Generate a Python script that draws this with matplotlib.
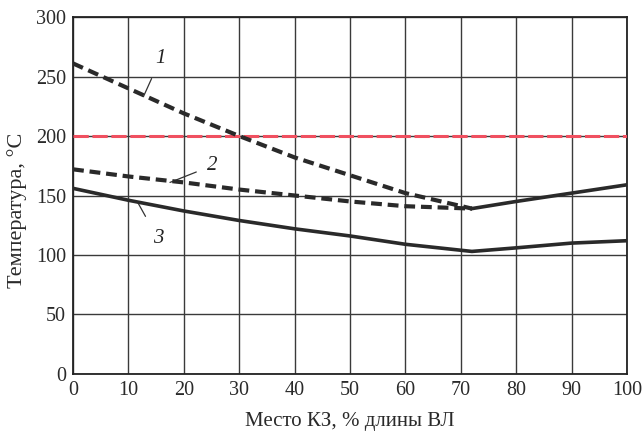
import matplotlib
matplotlib.use('Agg')
import matplotlib.pyplot as plt

# data
x1 = [0, 10, 20, 30, 40, 50, 60, 72]
y1 = [261, 240, 219, 200, 182, 167, 152, 139]
x2 = [0, 10, 20, 30, 40, 50, 60, 72]
y2 = [172, 166, 161, 155, 150, 145, 141, 139]
x12 = [72, 80, 90, 100]
y12 = [139, 145, 152, 159]
x3 = [0, 10, 20, 30, 40, 50, 60, 70, 72, 80, 90, 100]
y3 = [156, 146, 137, 129, 122, 116, 109, 104, 103, 106, 110, 112]
limit = 200

xticks = list(range(0, 101, 10))
yticks = list(range(0, 301, 50))

plt.rcParams['font.family'] = ['Liberation Serif', 'DejaVu Serif']

fig = plt.figure(figsize=(6.44, 4.32), dpi=100)
ax = fig.add_axes([0.1134, 0.1343, 0.8602, 0.8263])

ax.set_xlim(0, 100)
ax.set_ylim(0, 300)
ax.set_xticks(xticks)
ax.set_yticks(yticks)
ax.grid(True, color='#3a3a3a', linewidth=1.0)
ax.set_axisbelow(True)
ax.tick_params(length=0, pad=5, labelsize=14.5, colors='#2a2a2a')
for s in ax.spines.values():
    s.set_color('#222222')
    s.set_linewidth(1.3)

ax.axhline(limit, color='#f05060', linewidth=2.2, linestyle=(0, (5, 1.2)), zorder=3)

ax.plot(x1, y1, color='#2a2a2a', linewidth=3, linestyle=(0, (2.6, 1.4)), zorder=4)
ax.plot(x2, y2, color='#2a2a2a', linewidth=3, linestyle=(0, (2.6, 1.4)), zorder=4)
ax.plot(x12, y12, color='#2a2a2a', linewidth=2.6, zorder=4)
ax.plot(x3, y3, color='#2a2a2a', linewidth=2.6, zorder=4)

# curve labels with leader lines
ax.annotate('1', xy=(12.7, 233), xytext=(15.8, 265), fontsize=15, style='italic',
            ha='center', va='center', color='#222222',
            arrowprops=dict(arrowstyle='-', color='#333333', lw=0.9, shrinkA=6, shrinkB=0))
ax.annotate('2', xy=(17.5, 161), xytext=(25.1, 175), fontsize=15, style='italic',
            ha='center', va='center', color='#222222',
            arrowprops=dict(arrowstyle='-', color='#333333', lw=0.9, shrinkA=6, shrinkB=0))
ax.annotate('3', xy=(11.7, 144), xytext=(15.3, 114), fontsize=15, style='italic',
            ha='center', va='center', color='#222222',
            arrowprops=dict(arrowstyle='-', color='#333333', lw=0.9, shrinkA=8, shrinkB=0))

ax.set_xlabel('Место КЗ, % длины ВЛ', fontsize=15, color='#2a2a2a', labelpad=9)
ax.set_ylabel('Температура, °С', fontsize=16, color='#2a2a2a')
ax.yaxis.set_label_coords(-0.083, 0.459)

fig.savefig('out.png', dpi=100, facecolor='white')
